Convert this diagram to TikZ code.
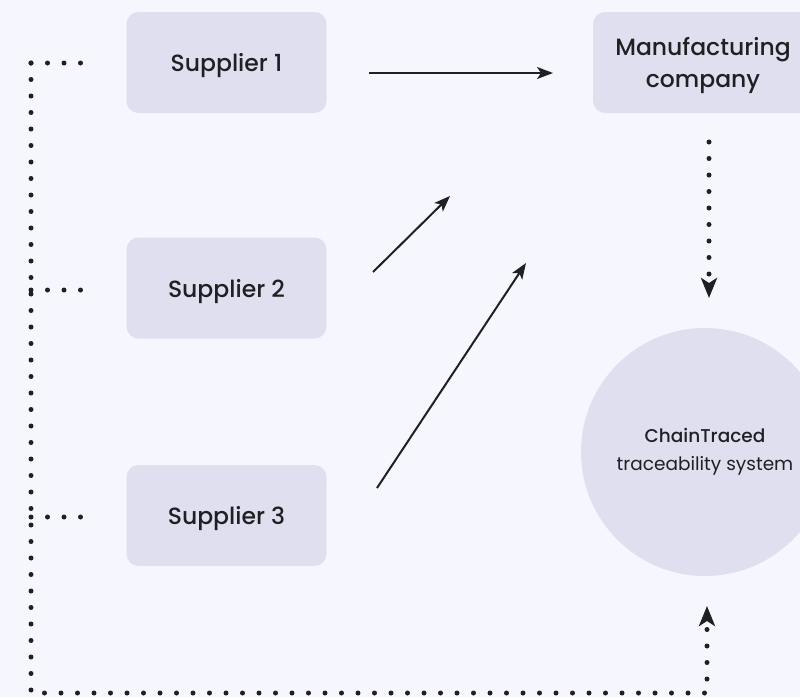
\documentclass[tikz,border=0pt]{standalone}
\usepackage{fontspec}
\setmainfont{Poppins}
\newfontfamily\medfont{Poppins Medium}
\usetikzlibrary{arrows.meta,positioning}
\definecolor{ctbg}{RGB}{246,246,255}
\definecolor{ctbox}{RGB}{223,223,240}
\definecolor{ctink}{RGB}{32,32,34}
\tikzset{
  party/.style={rectangle, rounded corners=12pt, fill=ctbox, minimum width=200pt, minimum height=101pt, text=ctink, align=center, text depth=0pt, font=\medfont\fontsize{23.5}{32}\selectfont},
  flow/.style={line width=2pt, ctink, -{Stealth[length=16pt,width=12pt,inset=4pt]}},
  trace/.style={line width=5pt, line cap=round, ctink, dash pattern=on 0pt off 16.5pt},
  tracetip/.style={trace, -{Stealth[length=20pt,width=16pt,inset=5pt,line cap=butt]}}
}

\begin{document}
\begin{tikzpicture}[x=1pt,y=-1pt]
% Canvas
\useasboundingbox[fill=ctbg] (0,0) rectangle (800,697);

% Parties
\node[party] (sup1) at (226.5,62.5) {Supplier 1};
\node[party] (sup2) at (226.5,288) {Supplier 2};
\node[party] (sup3) at (226.5,515.5) {Supplier 3};
\node[party, minimum width=220pt] (mfg) at (703,62.5) {Manufacturing\\company};
\node[circle, fill=ctbox, minimum size=248pt, inner sep=0pt, text=ctink, align=center, font=\fontsize{18.5}{28}\selectfont] (ct) at (705,452) {{\medfont ChainTraced}\\traceability system};

% Supply flows
\coordinate (f1a) at (369,73);  \coordinate (f1b) at (553,73);
\coordinate (f2a) at (373,272); \coordinate (f2b) at (450,196);
\coordinate (f3a) at (377,488); \coordinate (f3b) at (526,263);
\draw[flow] (f1a) -- (f1b);
\draw[flow] (f2a) -- (f2b);
\draw[flow] (f3a) -- (f3b);

% Traceability links
\coordinate (t1) at (31,63);
\coordinate (t2) at (31,290);
\coordinate (t3) at (31,517);
\coordinate (corner) at (31,693);
\coordinate (up) at (707,693);
\coordinate (tin) at (707,606);
\coordinate (tout) at (709,142);
\coordinate (tdown) at (709,298);
\draw[trace] (t1) -- +(52,0);
\draw[trace] (t2) -- +(52,0);
\draw[trace] (t3) -- +(52,0);
\draw[tracetip] (t1) -- (corner) -- (up) -- (tin);
\draw[tracetip] (tout) -- (tdown);
\end{tikzpicture}
\end{document}
